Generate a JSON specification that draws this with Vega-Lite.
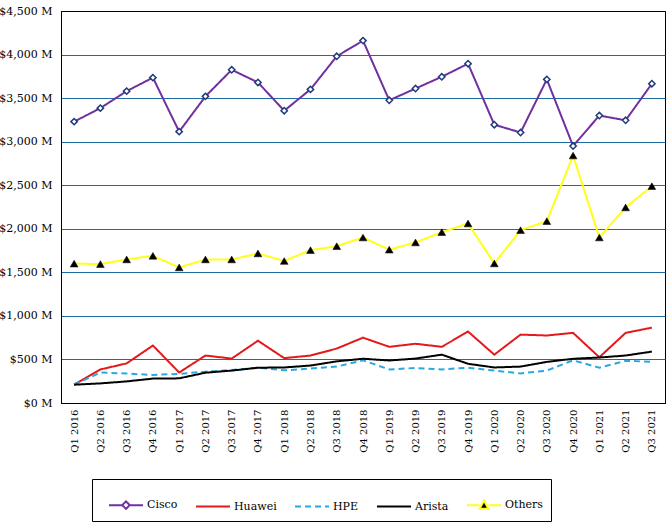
{
  "$schema": "https://vega.github.io/schema/vega-lite/v6.json",
  "autosize": {"type": "none"},
  "width": 604,
  "height": 392,
  "padding": {"left": 61, "top": 11, "right": 7, "bottom": 129},
  "background": "white",
  "data": {"values": [
    {"q":"Q1 2016","c":"Cisco","v":3230},{"q":"Q2 2016","c":"Cisco","v":3385},{"q":"Q3 2016","c":"Cisco","v":3580},{"q":"Q4 2016","c":"Cisco","v":3735},
    {"q":"Q1 2017","c":"Cisco","v":3115},{"q":"Q2 2017","c":"Cisco","v":3520},{"q":"Q3 2017","c":"Cisco","v":3825},{"q":"Q4 2017","c":"Cisco","v":3680},
    {"q":"Q1 2018","c":"Cisco","v":3355},{"q":"Q2 2018","c":"Cisco","v":3600},{"q":"Q3 2018","c":"Cisco","v":3980},{"q":"Q4 2018","c":"Cisco","v":4160},
    {"q":"Q1 2019","c":"Cisco","v":3475},{"q":"Q2 2019","c":"Cisco","v":3610},{"q":"Q3 2019","c":"Cisco","v":3745},{"q":"Q4 2019","c":"Cisco","v":3895},
    {"q":"Q1 2020","c":"Cisco","v":3195},{"q":"Q2 2020","c":"Cisco","v":3105},{"q":"Q3 2020","c":"Cisco","v":3715},{"q":"Q4 2020","c":"Cisco","v":2950},
    {"q":"Q1 2021","c":"Cisco","v":3300},{"q":"Q2 2021","c":"Cisco","v":3245},{"q":"Q3 2021","c":"Cisco","v":3665},

    {"q":"Q1 2016","c":"Huawei","v":210},{"q":"Q2 2016","c":"Huawei","v":385},{"q":"Q3 2016","c":"Huawei","v":455},{"q":"Q4 2016","c":"Huawei","v":660},
    {"q":"Q1 2017","c":"Huawei","v":350},{"q":"Q2 2017","c":"Huawei","v":545},{"q":"Q3 2017","c":"Huawei","v":510},{"q":"Q4 2017","c":"Huawei","v":715},
    {"q":"Q1 2018","c":"Huawei","v":515},{"q":"Q2 2018","c":"Huawei","v":545},{"q":"Q3 2018","c":"Huawei","v":625},{"q":"Q4 2018","c":"Huawei","v":750},
    {"q":"Q1 2019","c":"Huawei","v":645},{"q":"Q2 2019","c":"Huawei","v":680},{"q":"Q3 2019","c":"Huawei","v":645},{"q":"Q4 2019","c":"Huawei","v":820},
    {"q":"Q1 2020","c":"Huawei","v":555},{"q":"Q2 2020","c":"Huawei","v":785},{"q":"Q3 2020","c":"Huawei","v":775},{"q":"Q4 2020","c":"Huawei","v":805},
    {"q":"Q1 2021","c":"Huawei","v":525},{"q":"Q2 2021","c":"Huawei","v":805},{"q":"Q3 2021","c":"Huawei","v":865},

    {"q":"Q1 2016","c":"HPE","v":210},{"q":"Q2 2016","c":"HPE","v":350},{"q":"Q3 2016","c":"HPE","v":338},{"q":"Q4 2016","c":"HPE","v":322},
    {"q":"Q1 2017","c":"HPE","v":335},{"q":"Q2 2017","c":"HPE","v":360},{"q":"Q3 2017","c":"HPE","v":378},{"q":"Q4 2017","c":"HPE","v":405},
    {"q":"Q1 2018","c":"HPE","v":375},{"q":"Q2 2018","c":"HPE","v":395},{"q":"Q3 2018","c":"HPE","v":418},{"q":"Q4 2018","c":"HPE","v":490},
    {"q":"Q1 2019","c":"HPE","v":385},{"q":"Q2 2019","c":"HPE","v":402},{"q":"Q3 2019","c":"HPE","v":385},{"q":"Q4 2019","c":"HPE","v":405},
    {"q":"Q1 2020","c":"HPE","v":372},{"q":"Q2 2020","c":"HPE","v":340},{"q":"Q3 2020","c":"HPE","v":372},{"q":"Q4 2020","c":"HPE","v":490},
    {"q":"Q1 2021","c":"HPE","v":405},{"q":"Q2 2021","c":"HPE","v":485},{"q":"Q3 2021","c":"HPE","v":472},

    {"q":"Q1 2016","c":"Arista","v":210},{"q":"Q2 2016","c":"Arista","v":225},{"q":"Q3 2016","c":"Arista","v":248},{"q":"Q4 2016","c":"Arista","v":280},
    {"q":"Q1 2017","c":"Arista","v":283},{"q":"Q2 2017","c":"Arista","v":348},{"q":"Q3 2017","c":"Arista","v":372},{"q":"Q4 2017","c":"Arista","v":405},
    {"q":"Q1 2018","c":"Arista","v":408},{"q":"Q2 2018","c":"Arista","v":430},{"q":"Q3 2018","c":"Arista","v":478},{"q":"Q4 2018","c":"Arista","v":508},
    {"q":"Q1 2019","c":"Arista","v":488},{"q":"Q2 2019","c":"Arista","v":510},{"q":"Q3 2019","c":"Arista","v":555},{"q":"Q4 2019","c":"Arista","v":450},
    {"q":"Q1 2020","c":"Arista","v":408},{"q":"Q2 2020","c":"Arista","v":418},{"q":"Q3 2020","c":"Arista","v":472},{"q":"Q4 2020","c":"Arista","v":508},
    {"q":"Q1 2021","c":"Arista","v":522},{"q":"Q2 2021","c":"Arista","v":545},{"q":"Q3 2021","c":"Arista","v":590},

    {"q":"Q1 2016","c":"Others","v":1600},{"q":"Q2 2016","c":"Others","v":1595},{"q":"Q3 2016","c":"Others","v":1648},{"q":"Q4 2016","c":"Others","v":1690},
    {"q":"Q1 2017","c":"Others","v":1556},{"q":"Q2 2017","c":"Others","v":1648},{"q":"Q3 2017","c":"Others","v":1648},{"q":"Q4 2017","c":"Others","v":1717},
    {"q":"Q1 2018","c":"Others","v":1630},{"q":"Q2 2018","c":"Others","v":1755},{"q":"Q3 2018","c":"Others","v":1800},{"q":"Q4 2018","c":"Others","v":1900},
    {"q":"Q1 2019","c":"Others","v":1760},{"q":"Q2 2019","c":"Others","v":1843},{"q":"Q3 2019","c":"Others","v":1961},{"q":"Q4 2019","c":"Others","v":2061},
    {"q":"Q1 2020","c":"Others","v":1602},{"q":"Q2 2020","c":"Others","v":1984},{"q":"Q3 2020","c":"Others","v":2088},{"q":"Q4 2020","c":"Others","v":2841},
    {"q":"Q1 2021","c":"Others","v":1900},{"q":"Q2 2021","c":"Others","v":2245},{"q":"Q3 2021","c":"Others","v":2489}
  ]},
  "encoding": {
    "x": {
      "field": "q", "type": "ordinal",
      "scale": {"domain": ["Q1 2016","Q2 2016","Q3 2016","Q4 2016","Q1 2017","Q2 2017","Q3 2017","Q4 2017","Q1 2018","Q2 2018","Q3 2018","Q4 2018","Q1 2019","Q2 2019","Q3 2019","Q4 2019","Q1 2020","Q2 2020","Q3 2020","Q4 2020","Q1 2021","Q2 2021","Q3 2021"]},
      "axis": {"title": null, "labelAngle": -90, "ticks": false, "labelPadding": 6, "domainColor": "black", "labelFont": "DejaVu Serif", "labelFontSize": 10, "labelColor": "black", "grid": false}
    },
    "y": {
      "field": "v", "type": "quantitative",
      "scale": {"domain": [0, 4500], "nice": false},
      "axis": {
        "title": null,
        "values": [0,500,1000,1500,2000,2500,3000,3500,4000,4500],
        "labelExpr": "'$' + format(datum.value, ',') + ' M'",
        "ticks": false, "labelPadding": 9, "domainColor": "black",
        "labelFont": "DejaVu Serif", "labelFontSize": 11, "labelColor": "black",
        "grid": true,
        "gridColor": {"condition": {"test": "datum.value === 4500 || datum.value === 0", "value": "black"}, "value": "#1F6CA3"},
        "gridWidth": 1
      }
    }
  },
  "layer": [
    {
      "mark": {"type": "line", "strokeWidth": 2},
      "encoding": {
        "color": {
          "field": "c", "type": "nominal",
          "scale": {"domain": ["Cisco","Huawei","HPE","Arista","Others"], "range": ["#7030A0","#E3191C","#2AA8E0","#000000","#FFFF1A"]},
          "legend": {
            "orient": "none", "legendX": 31, "legendY": 468,
            "direction": "horizontal", "title": " ", "titleOrient": "left", "titlePadding": 8, "titleFontSize": 11,
            "strokeColor": "black", "fillColor": "white", "padding": 8,
            "columnPadding": 14, "labelOffset": 3,
            "symbolSize": 1156, "symbolStrokeWidth": 2, "symbolType": "stroke",
            "labelFont": "DejaVu Serif", "labelFontSize": 11, "labelColor": "black",
            "encode": {
              "symbols": {
                "update": {
                  "shape": {"signal": "datum.value === 'Cisco' ? 'M-1,0H-0.22M0.22,0H1M0,-0.22L0.22,0L0,0.22L-0.22,0Z' : datum.value === 'Others' ? 'M-1,0H-0.26M0.26,0H1M0,-0.28L0.26,0.2L-0.26,0.2Z' : 'M-1,0H1'"},
                  "fill": {"signal": "datum.value === 'Others' ? 'black' : 'white'"},
                  "strokeDash": {"signal": "datum.value === 'HPE' ? [6,4] : [1,0]"}
                }
              }
            }
          }
        },
        "strokeDash": {
          "field": "c", "type": "nominal",
          "scale": {"domain": ["Cisco","Huawei","HPE","Arista","Others"], "range": [[1,0],[1,0],[6,4],[1,0],[1,0]]},
          "legend": null
        }
      }
    },
    {
      "transform": [{"filter": "datum.c === 'Cisco'"}],
      "mark": {"type": "point", "shape": "diamond", "filled": true, "fill": "white", "stroke": "#1F3B7A", "strokeWidth": 1.5, "size": 40, "opacity": 1}
    },
    {
      "transform": [{"filter": "datum.c === 'Others'"}],
      "mark": {"type": "point", "shape": "triangle-up", "filled": true, "fill": "black", "stroke": "black", "strokeWidth": 0.5, "size": 60, "opacity": 1}
    }
  ],
  "config": {
    "font": "DejaVu Serif",
    "view": {"stroke": "black", "strokeWidth": 1}
  }
}
